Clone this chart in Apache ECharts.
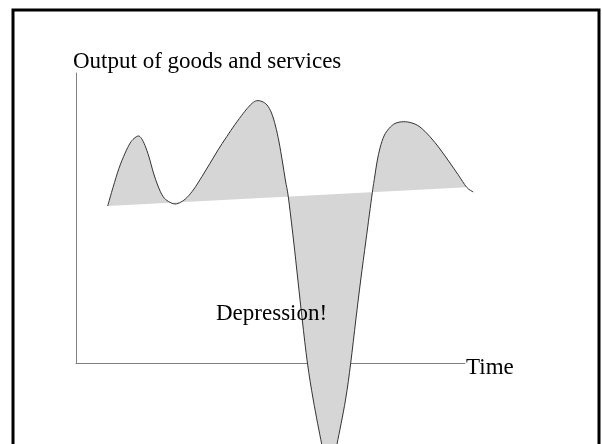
<!DOCTYPE html>
<html>
<head>
<meta charset="utf-8">
<script src="https://cdn.jsdelivr.net/npm/echarts@6/dist/echarts.min.js"></script>
<style>
  html, body { margin: 0; padding: 0; background: #fff; }
  #chart { width: 602px; height: 444px; }
</style>
</head>
<body>
<div id="chart"></div>
<script>
// business cycle curve (time 0-100, output 0-100)
const timeVals = [
  8.15, 9.51, 11.05, 12.60, 13.88, 14.91, 16.02, 16.84, 17.74, 18.77,
  19.92, 21.08, 22.37, 23.78, 25.45, 26.99, 28.53, 30.33, 32.39, 34.45,
  36.50, 38.74, 40.87, 43.01, 44.22, 45.37, 46.45, 47.81, 49.10, 50.26,
  51.29, 52.19, 53.08, 53.86, 54.58, 55.91, 57.04, 58.17, 59.49, 61.00,
  63.16, 64.27, 65.17, 66.07, 67.10, 69.28, 70.62, 71.93, 73.19, 74.55,
  76.17, 76.74, 77.38, 78.15, 79.18, 80.46, 82.01, 84.14, 86.38, 88.43,
  91.00, 93.57, 96.14, 98.20, 100.44, 102.13
]
const outputVals = [
  54.14, 60.52, 67.14, 72.31, 75.76, 77.41, 78.28, 77.41, 75.00, 71.03,
  65.52, 61.03, 57.41, 55.69, 54.83, 55.52, 57.07, 60.00, 64.31, 68.86,
  73.45, 78.03, 82.24, 86.10, 88.10, 89.66, 90.45, 90.17, 88.97, 86.21,
  81.72, 76.21, 69.31, 62.76, 57.24, 42.41, 28.62, 14.83, 0, -12.76,
  -27.93, -34.14, -38.28, -34.14, -27.93, -12.76, 0, 14.83, 28.62, 42.41,
  58.72, 63.79, 69.31, 74.14, 78.28, 80.86, 82.59, 83.21, 82.76, 81.38,
  78.03, 73.79, 68.97, 65.00, 60.59, 58.97
]
// long-run trend line
const trendTime = [8.15, 100.44]
const trendOutput = [54.14, 60.59]

const yName = 'Output of goods and services'
const xName = 'Time'
const noteText = 'Depression!'

function smoothPath(p) {
  let d = 'M' + p[0][0] + ',' + p[0][1]
  for (let i = 0; i < p.length - 1; i++) {
    const p0 = p[i - 1] || p[i]
    const p1 = p[i]
    const p2 = p[i + 1]
    const p3 = p[i + 2] || p2
    const c1 = [p1[0] + (p2[0] - p0[0]) / 6, p1[1] + (p2[1] - p0[1]) / 6]
    const c2 = [p2[0] - (p3[0] - p1[0]) / 6, p2[1] - (p3[1] - p1[1]) / 6]
    d += ' C' + c1[0] + ',' + c1[1] + ' ' + c2[0] + ',' + c2[1] + ' ' + p2[0] + ',' + p2[1]
  }
  return d
}

const chart = echarts.init(document.getElementById('chart'), null, { renderer: 'canvas' })

const labelFont = '23px "Liberation Serif"'

chart.setOption({
  animation: false,
  backgroundColor: '#fff',
  grid: { left: 76, top: 73, width: 389, height: 290 },
  xAxis: {
    type: 'value',
    min: 0,
    max: 100,
    axisLine: { show: true, lineStyle: { color: '#808080', width: 1 } },
    axisTick: { show: false },
    axisLabel: { show: false },
    splitLine: { show: false }
  },
  yAxis: {
    type: 'value',
    min: 0,
    max: 100,
    axisLine: { show: true, lineStyle: { color: '#808080', width: 1 } },
    axisTick: { show: false },
    axisLabel: { show: false },
    splitLine: { show: false }
  },
  graphic: [
    {
      type: 'rect',
      z: 100,
      shape: { x: 13, y: 10, width: 586, height: 500 },
      style: { fill: null, stroke: '#000', lineWidth: 3 }
    },
    {
      type: 'text',
      z: 100,
      left: 73,
      top: 50,
      style: { text: yName, font: labelFont, fill: '#000' }
    },
    {
      type: 'text',
      z: 100,
      left: 466,
      top: 356,
      style: { text: xName, font: labelFont, fill: '#000' }
    },
    {
      type: 'text',
      z: 100,
      left: 216,
      top: 302,
      style: { text: noteText, font: labelFont, fill: '#000' }
    }
  ],
  series: [
    {
      type: 'custom',
      coordinateSystem: 'cartesian2d',
      clip: false,
      silent: true,
      data: [[0, 0]],
      renderItem(params, api) {
        const pts = timeVals.map((t, i) => api.coord([t, outputVals[i]]))
        const curve = smoothPath(pts)
        const a = api.coord([trendTime[1], trendOutput[1]])
        const b = api.coord([trendTime[0], trendOutput[0]])
        return {
          type: 'group',
          children: [
            {
              type: 'path',
              shape: { pathData: curve + ' L' + a[0] + ',' + a[1] + ' L' + b[0] + ',' + b[1] + ' Z' },
              style: { fill: '#d6d6d6', stroke: null }
            },
            {
              type: 'path',
              shape: { pathData: curve },
              style: { fill: null, stroke: '#333', lineWidth: 1 }
            }
          ]
        }
      }
    }
  ]
})
</script>
</body>
</html>
